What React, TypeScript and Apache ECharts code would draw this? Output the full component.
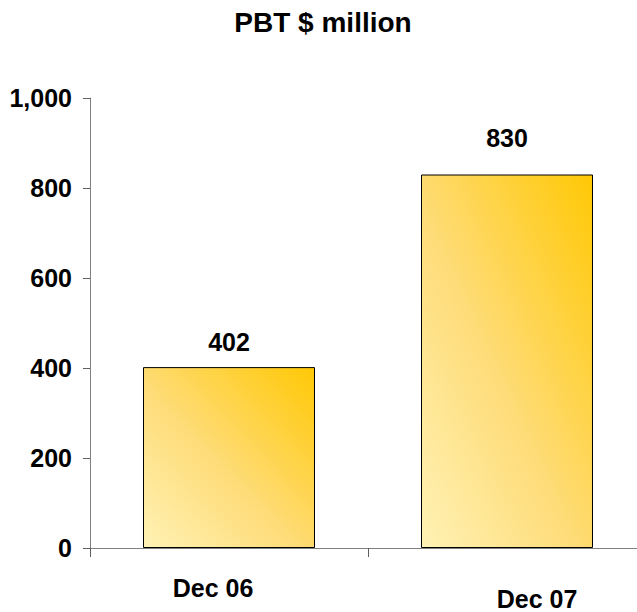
import React, { useEffect, useRef } from "react";
import * as echarts from "echarts";

const categories = ["Dec 06", "Dec 07"];
const pbtValues = [402, 830];
const labelDistances = [13, 24];
const yTicks = { min: 0, max: 1000, interval: 200 };

const FONT = "'Liberation Sans', Arial, sans-serif";
const SIZE = 25;

export default function App() {
  const ref = useRef<HTMLDivElement>(null);

  useEffect(() => {
    document.body.style.margin = "0";
    document.body.style.overflow = "hidden";
    const chart = echarts.init(ref.current!, null, { renderer: "svg" });
    const barFill = new echarts.graphic.LinearGradient(1, 0, 0, 1, [
      { offset: 0, color: "#FFC805" },
      { offset: 0.55, color: "#FEDC78" },
      { offset: 1, color: "#FFF2B5" },
    ]);
    const text = { fontFamily: FONT, fontWeight: "bold", fontSize: SIZE, color: "#000" };
    chart.setOption({
      animation: false,
      backgroundColor: "#ffffff",
      title: {
        text: "PBT $ million",
        left: "center",
        top: 3,
        textStyle: { ...text, fontSize: 28 },
      },
      grid: { left: 90, top: 98, bottom: 64, right: 0, containLabel: false },
      xAxis: {
        type: "category",
        data: categories,
        axisLine: { lineStyle: { color: "#808080", width: 1 } },
        axisTick: { show: true, length: 9, lineStyle: { color: "#606060" } },
        axisLabel: {
          margin: 27,
          ...text,
          formatter: (v: string, i: number) => (i === 0 ? `{a|${v}}` : `{b|${v}}`),
          rich: {
            a: { ...text, padding: [0, 32, 0, 0] },
            b: { ...text, padding: [11, 0, 0, 60] },
          },
        },
      },
      yAxis: {
        type: "value",
        min: yTicks.min,
        max: yTicks.max,
        interval: yTicks.interval,
        splitLine: { show: false },
        axisLine: { show: true, lineStyle: { color: "#808080", width: 1 } },
        axisTick: { show: true, length: 7, lineStyle: { color: "#606060" } },
        axisLabel: {
          margin: 18,
          ...text,
          formatter: (v: number) => v.toLocaleString("en-US"),
        },
      },
      series: [
        {
          type: "bar",
          barWidth: 172,
          data: pbtValues.map((v, i) => ({
            value: v,
            label: { distance: labelDistances[i] },
          })),
          itemStyle: { color: barFill, borderColor: "#000", borderWidth: 1 },
          label: { show: true, position: "top", ...text },
        },
      ],
    });
    return () => chart.dispose();
  }, []);

  // The chart canvas runs a little past the right edge of the page, as the plot area does.
  return <div ref={ref} style={{ width: 646, height: 612 }} />;
}
